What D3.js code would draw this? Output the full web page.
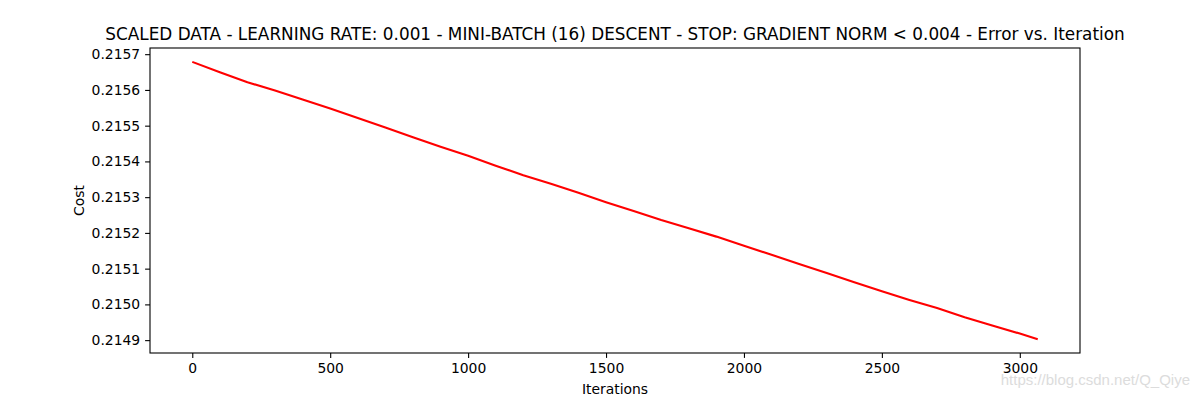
<!DOCTYPE html>
<html>
<head>
<meta charset="utf-8">
<script src="https://cdn.jsdelivr.net/npm/d3@7"></script>
<style>
  html, body { margin: 0; padding: 0; background: #fff; }
  svg text { font-family: "DejaVu Sans", sans-serif; fill: #000; }
</style>
</head>
<body>
<div id="graph"></div>
<script>
// iterations sampled from the curve
const iterations = [0, 100, 200, 300, 400, 500, 600, 700, 800, 900, 1000,
    1100, 1200, 1300, 1400, 1500, 1600, 1700, 1800, 1900, 2000,
    2100, 2200, 2300, 2400, 2500, 2600, 2700, 2800, 2900, 3000, 3065];
// cost at each sampled iteration
const costs = [0.2156785, 0.2156496, 0.2156215, 0.2155985, 0.2155732, 0.2155478,
    0.2155213, 0.2154946, 0.2154675, 0.2154408, 0.2154157, 0.2153881,
    0.2153610, 0.2153373, 0.2153120, 0.2152860, 0.2152610, 0.2152359,
    0.2152127, 0.2151896, 0.2151642, 0.2151389, 0.2151132, 0.2150876,
    0.2150622, 0.2150371, 0.2150126, 0.2149897, 0.2149641, 0.2149410,
    0.2149184, 0.2149028];
const xTicks = [0, 500, 1000, 1500, 2000, 2500, 3000];
const yTicks = [0.2149, 0.2150, 0.2151, 0.2152, 0.2153, 0.2154, 0.2155, 0.2156, 0.2157];

const title = 'SCALED DATA - LEARNING RATE: 0.001 - MINI-BATCH (16) DESCENT - STOP: GRADIENT NORM < 0.004 - Error vs. Iteration';

const width = 1200, height = 397;
const margin = { top: 48, right: 120, bottom: 44, left: 150 };
const plotW = width - margin.left - margin.right;
const plotH = height - margin.top - margin.bottom;

const svg = d3.select('#graph').append('svg')
    .attr('width', width)
    .attr('height', height);

const root = svg.append('g')
    .attr('transform', 'translate(' + margin.left + ',' + margin.top + ')');

// matplotlib style 5% padding on both axes
const xMin = d3.min(iterations), xMax = d3.max(iterations);
const xPad = (xMax - xMin) * 0.05;
const yMin = d3.min(costs), yMax = d3.max(costs);
const yPad = (yMax - yMin) * 0.05;

const scaleX = d3.scaleLinear().domain([xMin - xPad, xMax + xPad]).range([0, plotW]);
const scaleY = d3.scaleLinear().domain([yMin - yPad, yMax + yPad]).range([plotH, 0]);

const xAxis = root.append('g')
    .attr('transform', 'translate(0,' + plotH + ')')
    .call(d3.axisBottom(scaleX).tickValues(xTicks).tickFormat(d3.format('d'))
        .tickSizeInner(4.9).tickSizeOuter(0).tickPadding(4.9));

const yAxis = root.append('g')
    .call(d3.axisLeft(scaleY).tickValues(yTicks).tickFormat(d3.format('.4f'))
        .tickSizeInner(4.9).tickSizeOuter(0).tickPadding(4.9));

[xAxis, yAxis].forEach(a => {
    a.select('.domain').remove();
    a.selectAll('.tick line').attr('stroke', '#000').attr('stroke-width', 1.1);
    a.selectAll('.tick text').attr('font-size', '13.9px')
        .style('font-family', '"DejaVu Sans", sans-serif');
});

// data line
const line = d3.line()
    .x((d, i) => scaleX(iterations[i]))
    .y(d => scaleY(d));

root.append('path')
    .datum(costs)
    .attr('fill', 'none')
    .attr('stroke', '#ff0000')
    .attr('stroke-width', 2.1)
    .attr('stroke-linejoin', 'round')
    .attr('d', line);

// frame
root.append('rect')
    .attr('width', plotW)
    .attr('height', plotH)
    .attr('fill', 'none')
    .attr('stroke', '#000')
    .attr('stroke-width', 1.1);

svg.append('text')
    .attr('x', margin.left + plotW / 2)
    .attr('y', 40)
    .attr('text-anchor', 'middle')
    .attr('font-size', '16.85px')
    .text(title);

svg.append('text')
    .attr('x', margin.left + plotW / 2)
    .attr('y', 394)
    .attr('text-anchor', 'middle')
    .attr('font-size', '13.9px')
    .text('Iterations');

svg.append('text')
    .attr('transform', 'translate(84,' + (margin.top + plotH / 2) + ') rotate(-90)')
    .attr('text-anchor', 'middle')
    .attr('font-size', '13.9px')
    .text('Cost');

// watermark
svg.append('text')
    .attr('x', 1190)
    .attr('y', 385)
    .attr('text-anchor', 'end')
    .attr('font-size', '15px')
    .style('font-family', '"Liberation Sans", Arial, sans-serif')
    .style('fill', '#dcdcdc')
    .text('https://blog.csdn.net/Q_Qiye');
</script>
</body>
</html>
